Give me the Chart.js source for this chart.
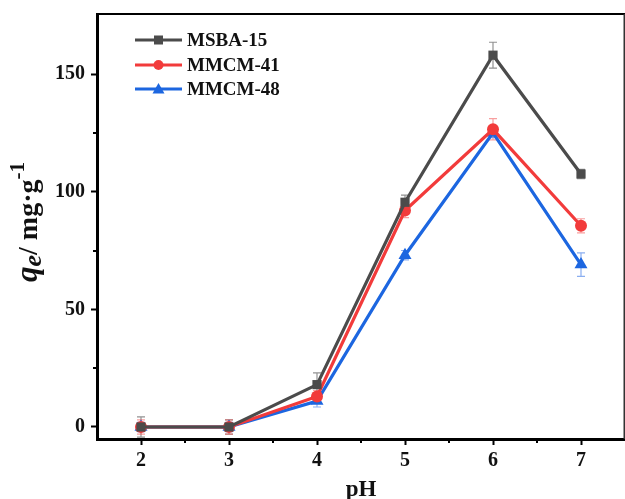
<!DOCTYPE html>
<html>
<head>
<meta charset="utf-8">
<script src="https://cdn.jsdelivr.net/npm/chart.js@4/dist/chart.umd.min.js"></script>
<style>
  html, body { margin: 0; padding: 0; background: #ffffff; overflow: hidden; }
  #wrap { width: 625px; height: 499px; position: relative; }
  canvas { display: block; }
</style>
</head>
<body>
<div id="wrap"><canvas id="c" width="625" height="499"></canvas></div>
<script>
// pH values and adsorption capacities (mg/g)
const phValues = [2, 3, 4, 5, 6, 7];
const msba15 = [0, 0, 18, 95.5, 158, 107.5];
const mmcm41 = [0, 0, 13, 92, 126.5, 85.5];
const mmcm48 = [0, 0, 11, 73, 125, 69];
// standard deviations for error bars
const msba15Err = [4.3, 3, 5, 3, 5.5, 2];
const mmcm41Err = [3, 3, 2.5, 3, 4.5, 3];
const mmcm48Err = [2, 2, 2.5, 2, 2, 5];
// tick labels
const xTickLabels = [2, 3, 4, 5, 6, 7];
const yTickLabels = [0, 50, 100, 150];
const seriesNames = ['MSBA-15', 'MMCM-41', 'MMCM-48'];

const FONT = '"Liberation Serif", "Times New Roman", serif';

function pts(values) { return phValues.map((x, i) => ({ x: x, y: values[i] })); }

const colors = ['#4b4b4b', '#f23b3b', '#1c66e0'];
const errColors = ['rgba(110,110,110,0.75)', 'rgba(242,80,80,0.55)', 'rgba(60,120,230,0.6)'];
const errs = [msba15Err, mmcm41Err, mmcm48Err];

// error bars, drawn through the chart's scales
const errorBars = {
  id: 'errorBars',
  beforeDatasetsDraw(chart) {
    const ctx = chart.ctx, xs = chart.scales.x, ys = chart.scales.y;
    ctx.save();
    chart.data.datasets.forEach((ds, di) => {
      ctx.strokeStyle = errColors[di];
      ctx.lineWidth = 1.2;
      ds.data.forEach((p, i) => {
        const e = errs[di][i];
        const px = xs.getPixelForValue(p.x);
        const top = ys.getPixelForValue(p.y + e);
        const bot = ys.getPixelForValue(p.y - e);
        ctx.beginPath();
        ctx.moveTo(px, top); ctx.lineTo(px, bot);
        ctx.moveTo(px - 4, top); ctx.lineTo(px + 4, top);
        ctx.moveTo(px - 4, bot); ctx.lineTo(px + 4, bot);
        ctx.stroke();
      });
    });
    ctx.restore();
  }
};

// minor ticks halfway between labelled ticks
const minorTicks = {
  id: 'minorTicks',
  afterDraw(chart) {
    const ctx = chart.ctx, a = chart.chartArea, xs = chart.scales.x, ys = chart.scales.y;
    ctx.save();
    ctx.strokeStyle = '#000';
    ctx.lineWidth = 2;
    ctx.beginPath();
    for (let i = 0; i < xTickLabels.length; i++) {
      const px = Math.round(xs.getPixelForValue(xTickLabels[i] + 0.5));
      if (px < a.right - 2) { ctx.moveTo(px, a.bottom); ctx.lineTo(px, a.bottom + 4); }
    }
    for (let i = 0; i < yTickLabels.length; i++) {
      const py = Math.round(ys.getPixelForValue(yTickLabels[i] + 25));
      if (py > a.top + 2) { ctx.moveTo(a.left, py); ctx.lineTo(a.left - 4, py); }
    }
    ctx.stroke();
    ctx.restore();
  }
};

// frame, legend and axis titles
const decorations = {
  id: 'decorations',
  afterDraw(chart) {
    const ctx = chart.ctx, a = chart.chartArea;
    ctx.save();
    // top and right frame
    ctx.strokeStyle = '#000';
    ctx.lineWidth = 2;
    ctx.beginPath();
    ctx.moveTo(a.left, a.top); ctx.lineTo(a.right, a.top);
    ctx.stroke();
    ctx.strokeStyle = '#333';
    ctx.lineWidth = 1.5;
    ctx.beginPath();
    ctx.moveTo(a.right - 0.75, a.top); ctx.lineTo(a.right - 0.75, a.bottom);
    ctx.stroke();

    // legend
    const rowY = [40, 65, 89];
    const styles = ['rect', 'circle', 'triangle'];
    chart.data.datasets.forEach((ds, i) => {
      const y = rowY[i];
      ctx.strokeStyle = colors[i];
      ctx.lineWidth = 3;
      ctx.beginPath();
      ctx.moveTo(135, y); ctx.lineTo(182, y);
      ctx.stroke();
      ctx.fillStyle = colors[i];
      const cx = 158.5;
      if (styles[i] === 'rect') {
        ctx.fillRect(cx - 4.5, y - 4.5, 9, 9);
      } else if (styles[i] === 'circle') {
        ctx.beginPath(); ctx.arc(cx, y, 5, 0, Math.PI * 2); ctx.fill();
      } else {
        ctx.beginPath();
        ctx.moveTo(cx, y - 6); ctx.lineTo(cx + 6, y + 4.5); ctx.lineTo(cx - 6, y + 4.5);
        ctx.closePath(); ctx.fill();
      }
      ctx.fillStyle = '#111';
      ctx.font = 'bold 19px ' + FONT;
      ctx.textBaseline = 'middle';
      ctx.textAlign = 'left';
      ctx.fillText(ds.label, 187, y + 1);
    });

    // x title
    ctx.fillStyle = '#111';
    ctx.font = 'bold 23px ' + FONT;
    ctx.textAlign = 'center';
    ctx.textBaseline = 'alphabetic';
    ctx.fillText('pH', 361, 496);

    // y title: q_e/ mg·g^-1
    const parts = [
      { t: 'q', f: 'italic bold 31px ' + FONT, dy: 0 },
      { t: 'e', f: 'italic bold 26px ' + FONT, dy: 4 },
      { t: '/ mg\u00b7g', f: 'bold 28px ' + FONT, dy: 0 },
      { t: '-1', f: 'bold 21px ' + FONT, dy: -13 }
    ];
    let total = 0;
    parts.forEach(p => { ctx.font = p.f; p.w = ctx.measureText(p.t).width; total += p.w; });
    ctx.translate(37, 222);
    ctx.rotate(-Math.PI / 2);
    let x = -total / 2;
    ctx.textAlign = 'left';
    parts.forEach(p => {
      ctx.font = p.f;
      ctx.fillText(p.t, x, p.dy);
      x += p.w;
    });
    ctx.restore();
  }
};

function makeSet(label, values, i, style, radius) {
  return {
    label: label,
    data: pts(values),
    borderColor: colors[i],
    backgroundColor: colors[i],
    borderWidth: 3.2,
    pointStyle: style,
    pointRadius: radius,
    pointBorderWidth: 0,
    pointHoverRadius: radius,
    tension: 0
  };
}

new Chart(document.getElementById('c'), {
  type: 'line',
  data: {
    datasets: [
      makeSet(seriesNames[0], msba15, 0, 'rect', 6.5),
      makeSet(seriesNames[1], mmcm41, 1, 'circle', 6),
      makeSet(seriesNames[2], mmcm48, 2, 'triangle', 7.5)
    ]
  },
  options: {
    responsive: false,
    animation: false,
    events: [],
    layout: { autoPadding: false, padding: { left: 0, right: 0, top: 14, bottom: 0 } },
    plugins: { legend: { display: false }, tooltip: { enabled: false } },
    scales: {
      x: {
        type: 'linear',
        min: 1.5,
        max: 7.5,
        afterFit(s) { s.height = 60; s.paddingLeft = 0; s.paddingRight = 0; },
        afterBuildTicks(s) { s.ticks = xTickLabels.map(v => ({ value: v })); },
        ticks: {
          color: '#111',
          font: { family: FONT, size: 20, weight: 'bold' },
          padding: 4,
          maxRotation: 0,
          autoSkip: false,
          callback(v) { return String(v); }
        },
        grid: {
          drawOnChartArea: false,
          drawTicks: true,
          tickLength: 6,
          tickColor: '#000',
          tickWidth: 2
        },
        border: { display: true, color: '#000', width: 3 }
      },
      y: {
        type: 'linear',
        min: -5.1,
        max: 175.5,
        afterFit(s) { s.width = 97; s.paddingTop = 0; s.paddingBottom = 0; },
        afterBuildTicks(s) { s.ticks = yTickLabels.map(v => ({ value: v })); },
        ticks: {
          color: '#111',
          font: { family: FONT, size: 20, weight: 'bold' },
          padding: 6,
          autoSkip: false,
          callback(v) { return String(v); }
        },
        grid: {
          drawOnChartArea: false,
          drawTicks: true,
          tickLength: 6,
          tickColor: '#000',
          tickWidth: 2
        },
        border: { display: true, color: '#000', width: 3 }
      }
    }
  },
  plugins: [errorBars, minorTicks, decorations]
});
</script>
</body>
</html>
